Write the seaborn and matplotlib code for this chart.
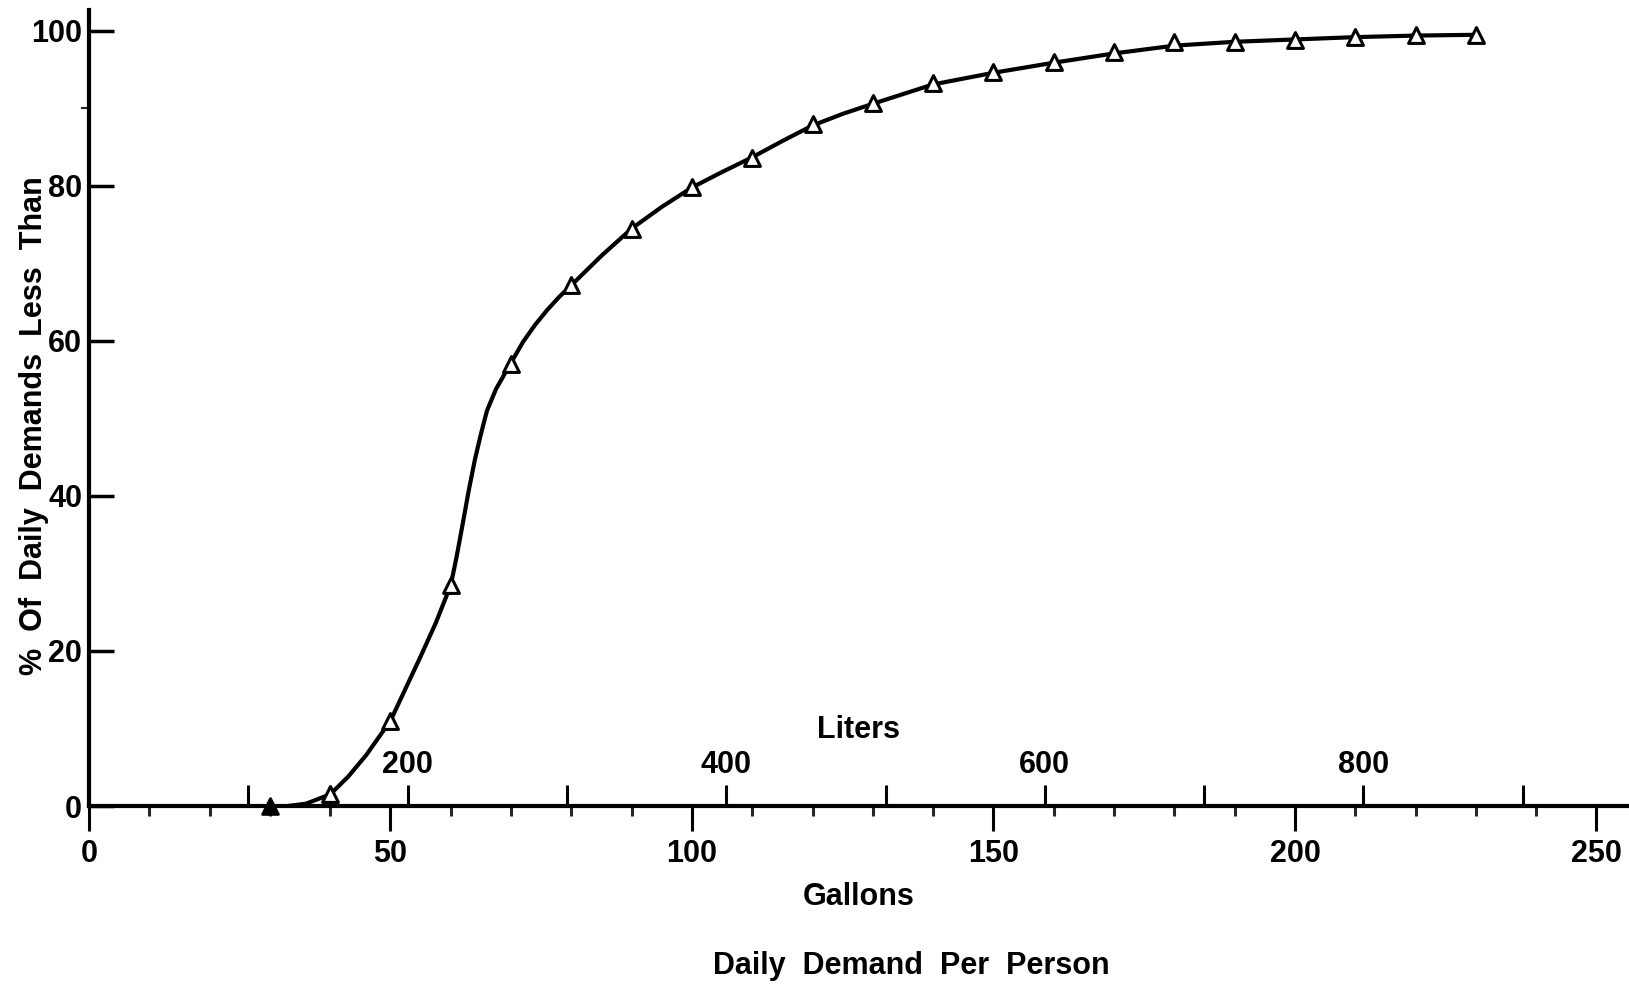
import numpy as np
import pandas as pd
import matplotlib
matplotlib.use("Agg")
import matplotlib.pyplot as plt
import matplotlib.ticker as mticker
import seaborn as sns

# values (gallons per person per day, cumulative %)
curve_gal = [33, 36, 40, 43, 46, 50, 55, 57.5, 60, 61, 62, 63, 64, 65, 66, 67.5, 70, 72, 74, 76,
             78, 80, 85, 90, 95, 100, 105, 110, 115, 120, 125, 130, 140, 150, 160, 170, 180,
             190, 200, 210, 220, 230]
curve_pct = [0, 0.3, 1.5, 3.8, 6.6, 11, 19.3, 23.6, 28.5, 32.3, 36.5, 40.8, 44.7, 48, 51, 53.8,
             57.2, 59.9, 62.1, 64, 65.7, 67.2, 71, 74.5, 77.3, 79.8, 81.8, 83.7, 85.8, 87.8, 89.3,
             90.6, 93.1, 94.6, 95.9, 97.1, 98.1, 98.6, 98.9, 99.2, 99.4, 99.5]

pt_gal = [40, 50, 60, 70, 80, 90, 100, 110, 120, 130, 140, 150, 160, 170, 180, 190, 200, 210, 220, 230]
pt_pct = [1.5, 11, 28.5, 57, 67.2, 74.5, 79.8, 83.6, 88, 90.7, 93.3, 94.7, 96, 97.3, 98.6, 98.6,
          98.8, 99.2, 99.5, 99.5]

first_gal = [30]
first_pct = [0]

gal_major = [0, 50, 100, 150, 200, 250]
gal_minor = list(range(10, 250, 10))
lit_labelled = [200, 400, 600, 800]
lit_all = [100, 200, 300, 400, 500, 600, 700, 800, 900]
pct_ticks = [0, 20, 40, 60, 80, 100]

LITERS_PER_GAL = 3.785

sns.set_style("ticks")
plt.rcParams["font.family"] = ["Liberation Sans", "DejaVu Sans"]
plt.rcParams["font.weight"] = "bold"
plt.rcParams["text.color"] = "black"
plt.rcParams["axes.labelcolor"] = "black"

fs = 22
fig = plt.figure(figsize=(16.29, 9.86), dpi=100)
ax = fig.add_axes([89 / 1629, 180 / 986, 1 - 89 / 1629, 796 / 986])

curve = pd.DataFrame({"gal": curve_gal, "pct": curve_pct})
pts = pd.DataFrame({"gal": pt_gal, "pct": pt_pct})

sns.lineplot(data=curve, x="gal", y="pct", color="black", linewidth=3, ax=ax, clip_on=False)
sns.scatterplot(data=pts, x="gal", y="pct", marker="^", s=130, facecolor="white",
                edgecolor="black", linewidth=2.2, ax=ax, zorder=5, clip_on=False)
sns.scatterplot(x=first_gal, y=first_pct, marker="^", s=130, color="black",
                edgecolor="black", linewidth=2, ax=ax, zorder=6, clip_on=False)

ax.set_xlim(0, 255.4)
ax.set_ylim(0, 102.7)

for s in ["top", "right"]:
    ax.spines[s].set_visible(False)
for s in ["left", "bottom"]:
    ax.spines[s].set_linewidth(3)
    ax.spines[s].set_color("black")

ax.xaxis.set_major_locator(mticker.FixedLocator(gal_major))
ax.xaxis.set_minor_locator(mticker.FixedLocator(gal_minor))
ax.yaxis.set_major_locator(mticker.FixedLocator(pct_ticks))
ax.yaxis.set_minor_locator(mticker.FixedLocator([90]))

ax.tick_params(axis="x", which="major", direction="out", length=18, width=2.2,
               labelsize=fs, pad=6, colors="black")
ax.tick_params(axis="x", which="minor", direction="out", length=7, width=2.2)
ax.tick_params(axis="y", which="major", direction="in", length=18, width=2.5,
               labelsize=fs, pad=5, colors="black")
ax.tick_params(axis="y", which="minor", direction="out", length=6, width=1.5)

ax.set_xlabel("Gallons", fontsize=fs, fontweight="bold", labelpad=9)
ax.set_ylabel("%  Of  Daily  Demands  Less  Than", fontsize=fs, fontweight="bold")
ax.yaxis.set_label_coords(-0.026, 1 - (426 - 10) / 796)

sec = ax.secondary_xaxis(0, functions=(lambda g: g * LITERS_PER_GAL, lambda l: l / LITERS_PER_GAL))
sec.set_alignment("top")
sec.spines["top"].set_visible(False)
sec.xaxis.set_major_locator(mticker.FixedLocator(lit_all))
sec.xaxis.set_major_formatter(mticker.FuncFormatter(
    lambda v, p: f"{int(round(v))}" if int(round(v)) in lit_labelled else ""))
sec.tick_params(axis="x", which="major", direction="out", length=15, width=2.2,
                labelsize=fs, pad=4, colors="black")
sec.tick_params(axis="x", which="minor", length=0)
sec.set_xlabel("Liters", fontsize=fs, fontweight="bold", labelpad=8)

fig.text(911 / 1629, 1 - 966 / 986, "Daily  Demand  Per  Person", fontsize=fs,
         fontweight="bold", ha="center", va="center")

fig.savefig("out.png", dpi=100, facecolor="white")
